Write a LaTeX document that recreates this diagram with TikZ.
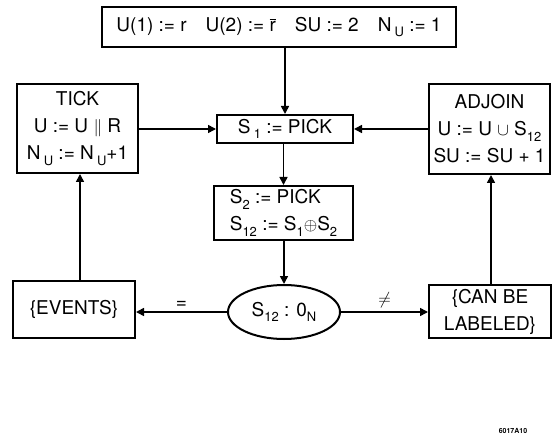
\documentclass[tikz,border=0pt]{standalone}
\usepackage{fontspec}
\setmainfont{TeX Gyre Heros}
\usetikzlibrary{arrows.meta,shapes.geometric}
\newcommand\low[1]{\raisebox{-0.55ex}{\fontsize{13}{13}\selectfont #1}}

\begin{document}
\begin{tikzpicture}[x=1pt,y=-1pt,
  box/.style={draw,line width=2pt,inner sep=2pt,font=\fontsize{19}{27}\selectfont},
  test/.style={draw,ellipse,line width=2pt,inner sep=0pt,font=\fontsize{19}{27}\selectfont},
  flow/.style={line width=1.6pt,-{Triangle[length=8pt,width=8pt]}},
  tag/.style={font=\fontsize{19}{19}\selectfont,inner sep=3pt}]
\useasboundingbox (0,0) rectangle (556,438);

% boxes
\node[box,minimum width=354,minimum height=40] (init) at (279,27)
  {U(1) := r\quad U(2) := $\overline{\mbox{r}}$\quad SU := 2\quad N\,\low{U} := 1};
\node[box,minimum width=136,minimum height=28] (s1) at (285,129) {S\,\low{1} := PICK};
\node[box,minimum width=139,minimum height=54,align=left] (s2) at (283.5,213)
  {S\low{2} := PICK\\S\low{12} := S\low{1}$\oplus$S\low{2}};
\node[box,minimum width=121,minimum height=89,align=center] (tick) at (77.5,128.5)
  {TICK\\U := U $\|$ R\\N\,\low{U} := N\,\low{U}+1};
\node[box,minimum width=121,minimum height=90,align=center] (adjoin) at (489.5,129)
  {ADJOIN\\U := U $\cup$ S\low{12}\\SU := SU + 1};
\node[test,minimum width=112,minimum height=54] (cmp) at (284,312) {S\low{12} : 0\low{N}};
\node[box,minimum width=122,minimum height=57] (events) at (74,309.5) {\{EVENTS\}};
\node[box,minimum width=122,minimum height=53,align=center] (label) at (490,311.5)
  {\{CAN BE\\LABELED\}};
\node[font=\bfseries\fontsize{7}{7}\selectfont] (code) at (513,431) {6017A10};

% connectors
\draw[flow] (init.south -| s1.north) -- (s1.north);
\draw[flow] (tick.east |- s1.west) -- (s1.west);
\draw[flow] (adjoin.west |- s1.east) -- (s1.east);
\draw[flow] (s1.south -| s2.north) -- (s2.north);
\draw[flow] (s2.south -| cmp.north) -- (cmp.north);
\draw[flow] (cmp.west) -- node[tag,above] {=} (events.east |- cmp.west);
\draw[flow] (cmp.east) -- node[tag,above] {$\neq$} (label.west |- cmp.east);
\draw[flow] (events.north -| 80,0) -- (tick.south -| 80,0);
\draw[flow] (label.north -| 491,0) -- (adjoin.south -| 491,0);

\end{tikzpicture}
\end{document}
